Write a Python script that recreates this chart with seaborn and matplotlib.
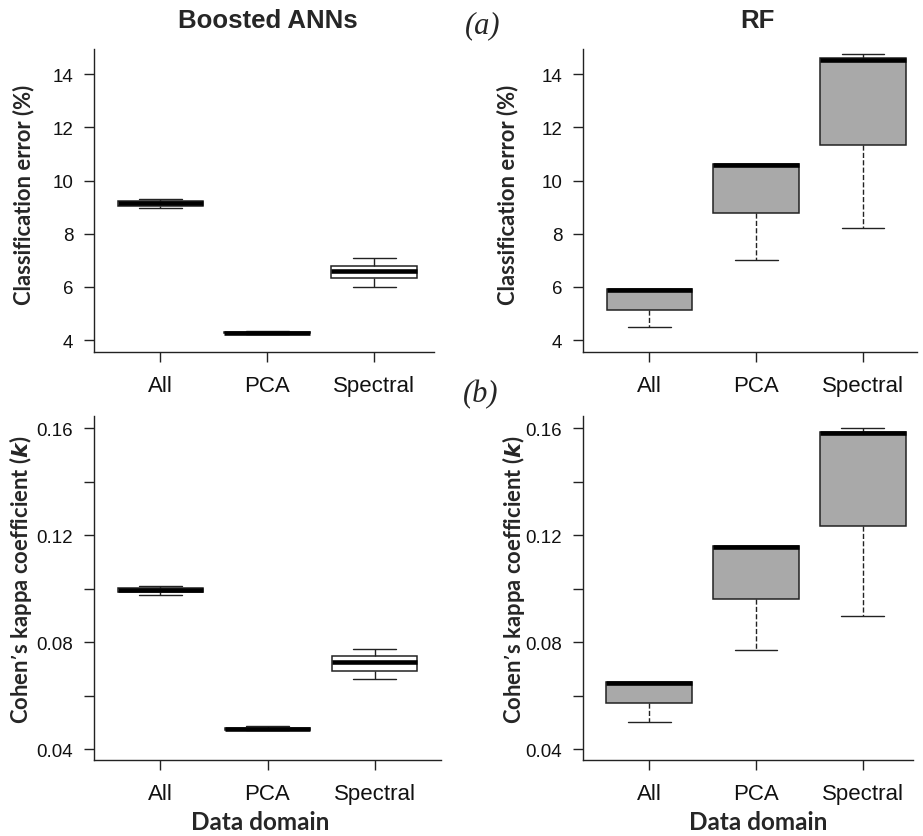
import numpy as np
import pandas as pd
import seaborn as sns
import matplotlib
matplotlib.use("Agg")
import matplotlib.pyplot as plt

# ---------------- data (five-number summaries: min, Q1, median, Q3, max) ----------------
categories = ["All", "PCA", "Spectral"]

ann_err_all = [8.96, 9.06, 9.15, 9.24, 9.29]
ann_err_pca = [4.23, 4.25, 4.27, 4.31, 4.34]
ann_err_spectral = [6.00, 6.32, 6.58, 6.80, 7.08]

rf_err_all = [4.48, 5.14, 5.90, 5.93, 5.93]
rf_err_pca = [7.03, 8.79, 10.57, 10.62, 10.62]
rf_err_spectral = [8.20, 11.34, 14.55, 14.62, 14.75]

ann_kappa_all = [0.0977, 0.0986, 0.0996, 0.1002, 0.1010]
ann_kappa_pca = [0.0470, 0.0472, 0.0475, 0.0480, 0.0485]
ann_kappa_spectral = [0.0661, 0.0692, 0.0724, 0.0749, 0.0776]

rf_kappa_all = [0.0500, 0.0571, 0.0646, 0.0651, 0.0651]
rf_kappa_pca = [0.0771, 0.0963, 0.1155, 0.1160, 0.1160]
rf_kappa_spectral = [0.0896, 0.1236, 0.1581, 0.1587, 0.1601]

err_ticks = [4, 6, 8, 10, 12, 14]
kappa_ticks = [0.04, 0.06, 0.08, 0.10, 0.12, 0.14, 0.16]
kappa_labels = ["0.04", "", "0.08", "", "0.12", "", "0.16"]

titles = ["Boosted ANNs", "RF"]


def frame(a, p, s):
    rows = []
    for cat, vals in zip(categories, [a, p, s]):
        for v in vals:
            rows.append({"domain": cat, "value": v})
    return pd.DataFrame(rows)


sns.set_theme(style="ticks")
plt.rcParams["font.family"] = ["Liberation Sans", "DejaVu Sans"]

W, H = 923, 837
fig = plt.figure(figsize=(W / 100, H / 100), dpi=100)


def add_axes(l, r, t, b):
    return fig.add_axes([l / W, 1 - b / H, (r - l) / W, (b - t) / H])


# pixel boxes (left, right, top, bottom)
ax_tl = add_axes(94, 434, 50, 353)
ax_tr = add_axes(583, 917, 50, 353)
ax_bl = add_axes(94, 441, 417, 761)
ax_br = add_axes(583, 913, 417, 761)

ylabel_font = dict(family=["Lato", "DejaVu Sans"], weight="bold", size=15.8)
xlabel_font = dict(family=["Lato", "DejaVu Sans"], weight="bold", size=17.5)

panels = [
    (ax_tl, frame(ann_err_all, ann_err_pca, ann_err_spectral), "white", "-", (-0.62, 2.56), (3.55, 14.95), "err"),
    (ax_tr, frame(rf_err_all, rf_err_pca, rf_err_spectral), "#a9a9a9", "--", (-0.62, 2.505), (3.55, 14.95), "err"),
    (ax_bl, frame(ann_kappa_all, ann_kappa_pca, ann_kappa_spectral), "white", "-", (-0.62, 2.62), (0.0359, 0.1646), "kappa"),
    (ax_br, frame(rf_kappa_all, rf_kappa_pca, rf_kappa_spectral), "#a9a9a9", "--", (-0.62, 2.47), (0.0359, 0.1646), "kappa"),
]

for ax, df, fill, ls, xl, yl, kind in panels:
    sns.boxplot(
        data=df, x="domain", y="value", order=categories, ax=ax,
        color=fill, saturation=1, width=0.8, whis=(0, 100), showfliers=False,
        linecolor="black", linewidth=1.1,
        medianprops={"linewidth": 3.3, "color": "black", "solid_capstyle": "butt"},
        whiskerprops={"linestyle": ls, "linewidth": 1.0, "color": "#222222"},
        capprops={"linewidth": 1.0, "color": "#222222"},
        boxprops={"edgecolor": "#222222"},
    )
    ax.set_xlim(*xl)
    ax.set_ylim(*yl)
    for sp in ["top", "right"]:
        ax.spines[sp].set_visible(False)
    for sp in ["left", "bottom"]:
        ax.spines[sp].set_color("#222222")
        ax.spines[sp].set_linewidth(1.0)
    ax.tick_params(axis="x", direction="out", length=7.5, width=1, color="#222222",
                   labelsize=16, pad=9, labelcolor="#111111")
    ax.tick_params(axis="y", direction="out", length=7, width=1, color="#222222",
                   labelsize=13.5, pad=8, labelcolor="#111111")
    if kind == "err":
        ax.set_yticks(err_ticks)
        ax.set_yticklabels([str(t) for t in err_ticks])
        ax.set_ylabel("Classification error (%)", fontdict=ylabel_font)
        ax.set_xlabel("")
    else:
        ax.set_yticks(kappa_ticks)
        ax.set_yticklabels(kappa_labels)
        ax.set_ylabel("Cohen\u2019s kappa coefficient ($\\boldsymbol{k}$)", fontdict=ylabel_font)
        ax.set_xlabel("Data domain", fontdict=xlabel_font)
    ax.set_facecolor("white")

# label placement
ax_tl.yaxis.set_label_coords(-0.175, 0.523)
ax_tr.yaxis.set_label_coords(-0.195, 0.523)
ax_bl.yaxis.set_label_coords(-0.172, 0.526)
ax_br.yaxis.set_label_coords(-0.17, 0.526)
ax_bl.xaxis.set_label_coords((260 - 94) / 347, -0.145)
ax_br.xaxis.set_label_coords((758 - 583) / 330, -0.145)

# titles and panel tags
fig.text(268 / W, 1 - 21 / H, titles[0], ha="center", va="center",
         fontsize=18.5, fontweight="bold", family=["Liberation Sans", "DejaVu Sans"])
fig.text(757 / W, 1 - 21 / H, titles[1], ha="center", va="center",
         fontsize=18.5, fontweight="bold", family=["Liberation Sans", "DejaVu Sans"])
fig.text(483 / W, 1 - 26 / H, "(a)", ha="center", va="center", fontsize=22,
         style="italic", family=["Liberation Serif", "DejaVu Serif"])
fig.text(481 / W, 1 - 395 / H, "(b)", ha="center", va="center", fontsize=22,
         style="italic", family=["Liberation Serif", "DejaVu Serif"])

fig.savefig("out.png", dpi=100, facecolor="white")
